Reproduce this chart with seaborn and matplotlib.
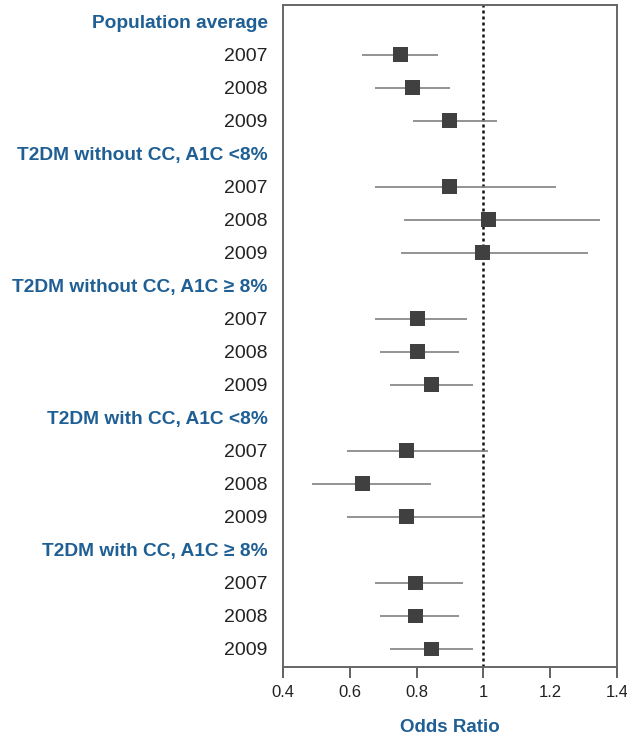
import pandas as pd
import matplotlib.pyplot as plt
import seaborn as sns

# Groups and years shown on the y axis
groups = [
    "Population average",
    "T2DM without CC, A1C <8%",
    "T2DM without CC, A1C \u2265 8%",
    "T2DM with CC, A1C <8%",
    "T2DM with CC, A1C \u2265 8%",
]
years = ["2007", "2008", "2009"]

# Odds ratios and 95% CI, per group, in year order
odds_ratio = [0.752, 0.788, 0.899,
              0.899, 1.016, 0.998,
              0.803, 0.803, 0.845,
              0.770, 0.638, 0.770,
              0.797, 0.797, 0.845]
ci_low = [0.637, 0.674, 0.788,
          0.674, 0.761, 0.752,
          0.674, 0.691, 0.721,
          0.591, 0.488, 0.591,
          0.674, 0.691, 0.721]
ci_high = [0.864, 0.900, 1.041,
           1.217, 1.350, 1.314,
           0.951, 0.928, 0.968,
           1.015, 0.844, 1.000,
           0.938, 0.928, 0.968]

# Build row layout: a header row per group followed by its years
labels, rows, is_header = [], [], []
for g in groups:
    labels.append(g)
    is_header.append(True)
    for y in years:
        labels.append(y)
        is_header.append(False)
        rows.append(len(labels) - 1)

df = pd.DataFrame({"row": rows, "OR": odds_ratio, "lo": ci_low, "hi": ci_high})

sns.set_style("white")
plt.rcParams["font.family"] = ["Liberation Sans", "DejaVu Sans"]

blue = "#1f5f94"
fig = plt.figure(figsize=(6.27, 7.37), dpi=100)
ax = fig.add_axes([0.4514, 0.095, 0.5326, 0.8982])

ax.hlines(df["row"], df["lo"], df["hi"], color="#808080", linewidth=1.2, zorder=2)
sns.scatterplot(data=df, x="OR", y="row", marker="s", s=110, color="#404040",
                edgecolor="none", ax=ax, zorder=3)
ax.axvline(1.0, color="#111111", linestyle=(0, (1.2, 1.2)), linewidth=1.8, zorder=1)

ax.set_xlim(0.4, 1.4)
ax.set_ylim(len(labels) - 0.45, -0.5)
ax.set_xticks([0.4, 0.6, 0.8, 1.0, 1.2, 1.4])
ax.set_xticklabels(["0.4", "0.6", "0.8", "1", "1.2", "1.4"], fontsize=12, color="#222222")
ax.set_yticks(range(len(labels)))
ax.set_yticklabels(labels, fontsize=14)
for lab, hdr in zip(ax.get_yticklabels(), is_header):
    if hdr:
        lab.set_fontweight("bold")
        lab.set_fontsize(13.8)
        lab.set_color(blue)
    else:
        lab.set_color("#222222")

ax.tick_params(axis="y", length=0, pad=11)
ax.tick_params(axis="x", direction="out", length=8, width=1.3, color="#555555",
               bottom=True, pad=5)
for sp in ax.spines.values():
    sp.set_color("#666666")
    sp.set_linewidth(1.4)

ax.set_xlabel("Odds Ratio", fontsize=13.5, fontweight="bold", color=blue, labelpad=14)
ax.set_ylabel("")

fig.savefig("out.png", dpi=100)
